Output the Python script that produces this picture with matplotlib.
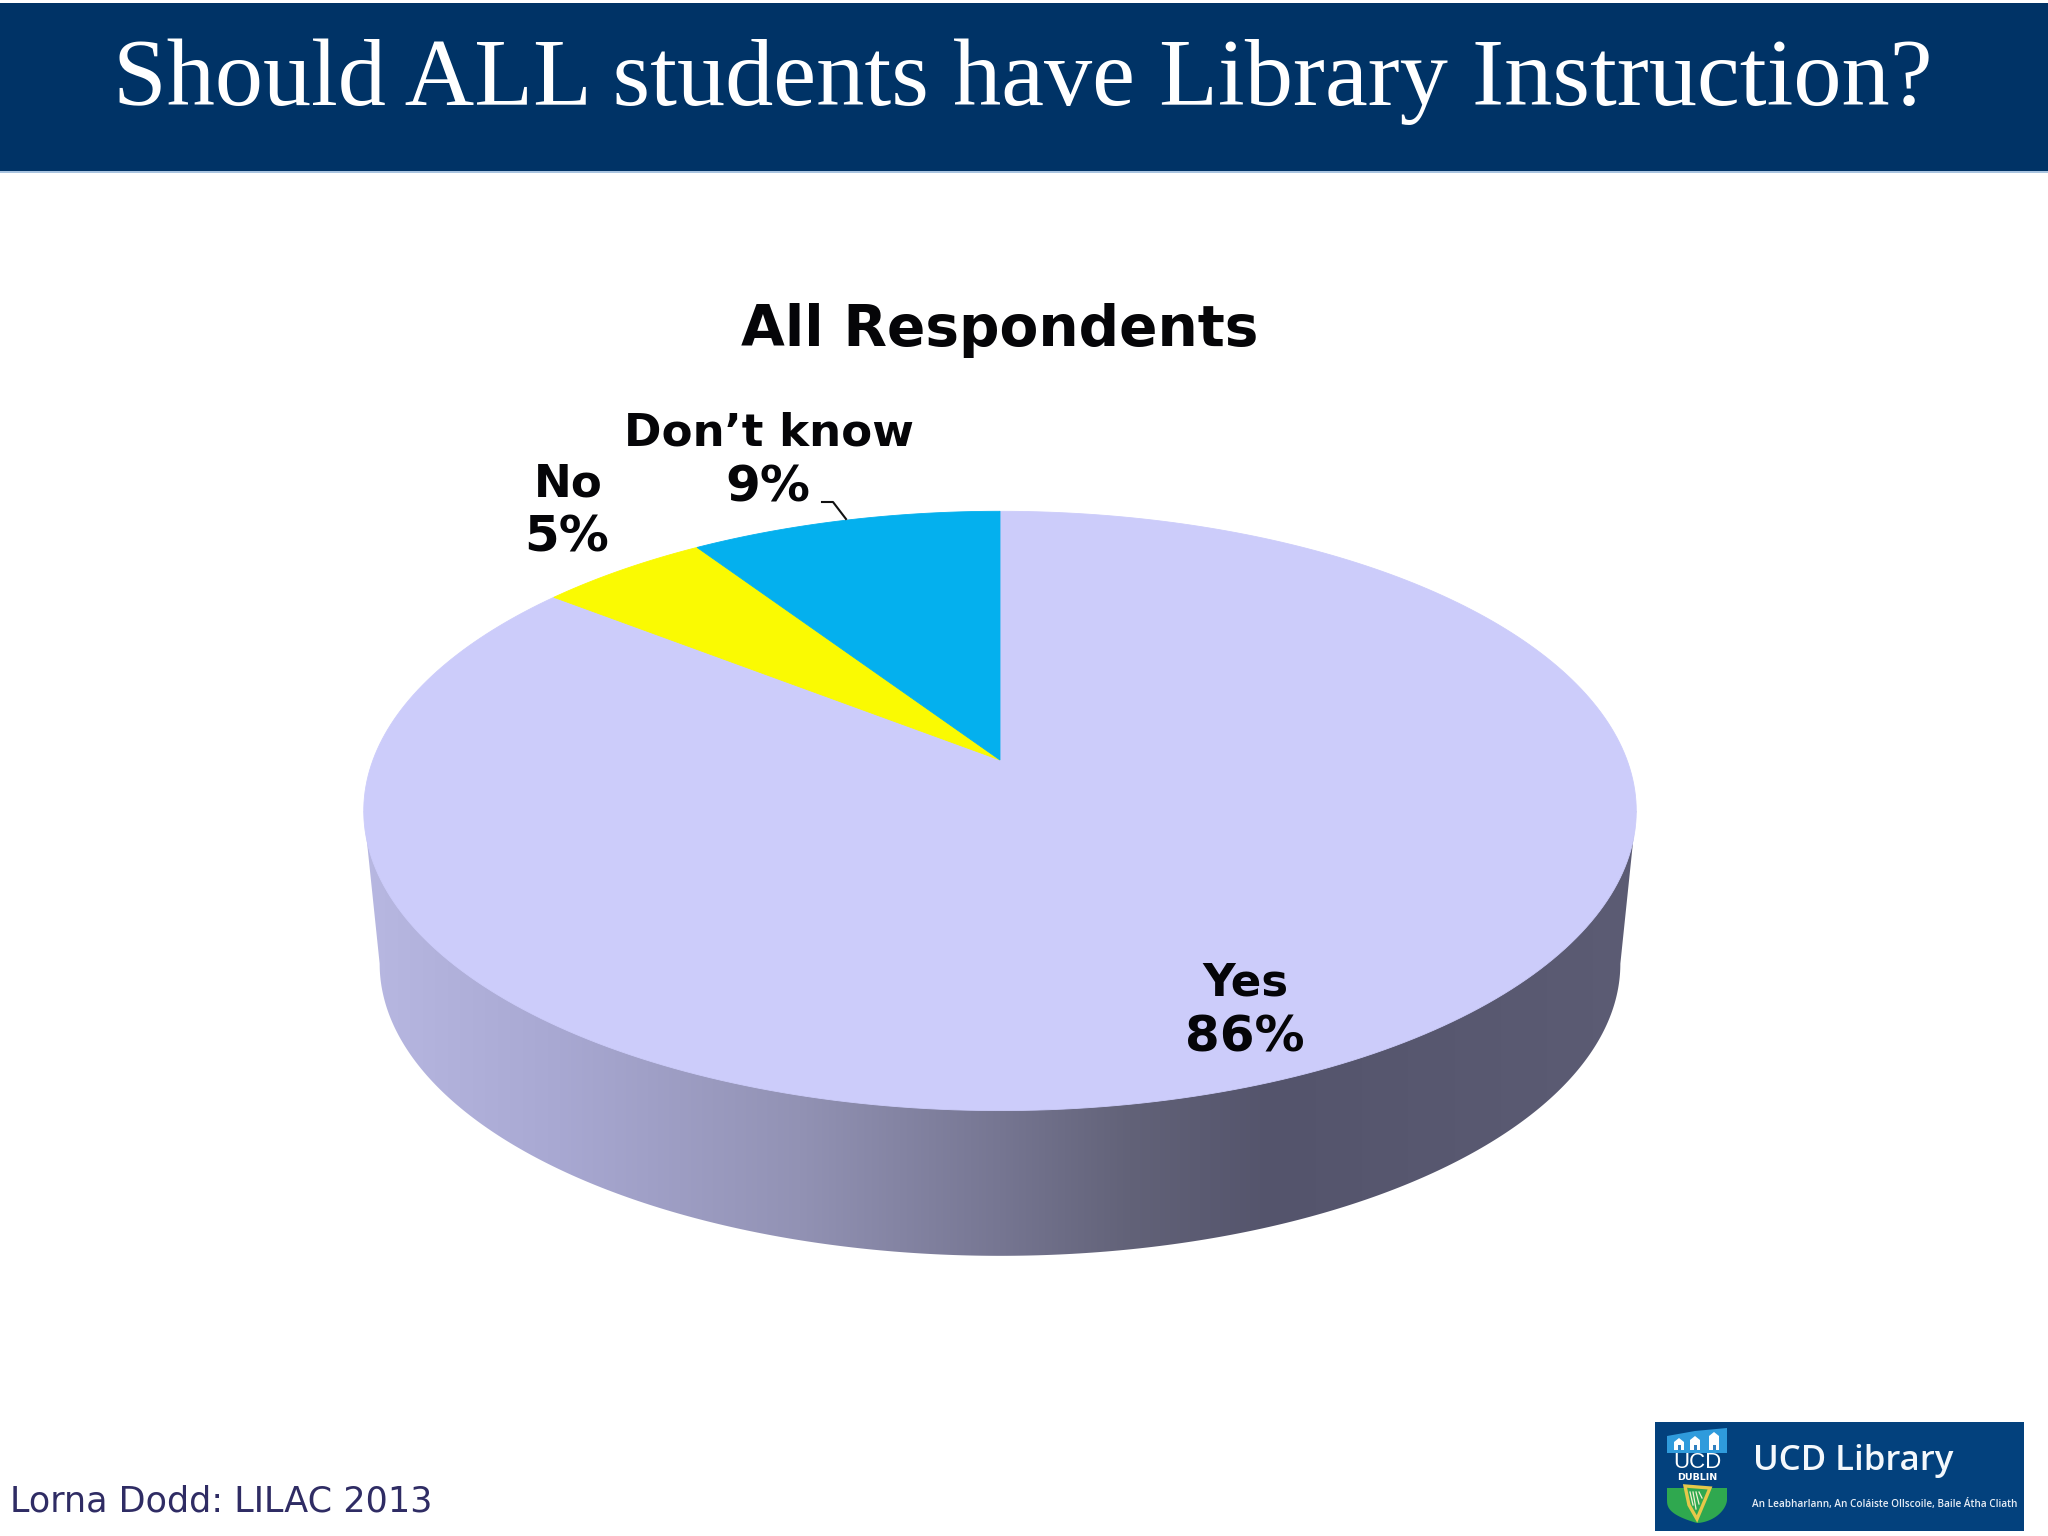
import numpy as np
import matplotlib
matplotlib.use("Agg")
import matplotlib.pyplot as plt
from matplotlib.patches import Polygon, Rectangle

# ===============================
# DATA
# ===============================
# slices from 12 o'clock going counterclockwise
categories = ["Don\u2019t know", "No", "Yes"]
shares = [9.3, 5.1, 85.6]
share_labels = ["9%", "5%", "86%"]
slice_colors = ["#04b0ee", "#fafa02", "#ccccfa"]

title = "Should ALL students have Library Instruction?"
chart_title = "All Respondents"
footer = "Lorna Dodd: LILAC 2013"

# ===============================
# PIE GEOMETRY (figure pixels)
# ===============================
CX, CY = 1000, 760
A, B, K = 627, 291, 0.17
RIM_SCALE, RIM_CY = 0.975, 914

# side shading, x position against colour
shade_x = [360, 560, 800, 1000, 1130, 1270, 1640]
shade_rgb = np.array([
    [184, 184, 226],
    [168, 168, 210],
    [146, 146, 180],
    [118, 118, 146],
    [98, 98, 120],
    [84, 84, 108],
    [92, 92, 116],
]) / 255


def project(t, scale=1.0, cy=CY):
    # circle seen in perspective, the far side is squeezed
    d = 1 + K * np.sin(t)
    return CX + A * scale * np.cos(t) / d, cy - B * scale * np.sin(t) / d


fig = plt.figure(figsize=(20.48, 15.36), dpi=100)
ax = fig.add_axes([0, 0, 1, 1])

# ===============================
# SIDE OF THE PIE
# ===============================
tw = np.arcsin(K)
t_rim = np.linspace(np.pi + tw, 2 * np.pi - tw, 300)
rx, ry = project(t_rim, RIM_SCALE, RIM_CY)
lx, ly = project(np.pi + tw)
hx, hy = project(2 * np.pi - tw)
side_pts = np.column_stack([np.r_[lx, rx, hx], np.r_[ly, ry, hy]])
side = Polygon(side_pts, closed=True, facecolor="none", edgecolor="none")
ax.add_patch(side)

xs = np.arange(360, 1641)
grad = np.column_stack([np.interp(xs, shade_x, shade_rgb[:, i]) for i in range(3)])
im = ax.imshow(grad[np.newaxis, :, :], extent=[360, 1640, 1300, 780],
               aspect="auto", interpolation="bilinear")
im.set_clip_path(side)

# ===============================
# TOP OF THE PIE
# ===============================
edges = np.r_[0, np.cumsum(shares)] / np.sum(shares) * 2 * np.pi + np.pi / 2
for i in range(len(shares) - 1, -1, -1):
    t = np.linspace(edges[i], edges[i + 1], 300)
    x, y = project(t)
    ax.fill(np.r_[CX, x], np.r_[CY, y], color=slice_colors[i], lw=0.6, zorder=3)

# ===============================
# LABELS
# ===============================
label_font = dict(family="DejaVu Sans", fontweight="bold", ha="center", va="center",
                  color="#050508", zorder=5)
name_pos = [(769, 433), (568, 484), (1245, 983)]
pct_pos = [(768, 487), (567, 538), (1245, 1037)]
for name, pct, np_, pp_ in zip(categories, share_labels, name_pos, pct_pos):
    ax.text(np_[0], np_[1], name, fontsize=32.5, **label_font)
    ax.text(pp_[0], pp_[1], pct, fontsize=36, **label_font)
ax.plot([822, 833, 846], [502, 502, 519], color="#111111", lw=1.5, zorder=5)

ax.text(1000, 330, chart_title, family="DejaVu Sans", fontweight="bold", fontsize=40.8,
        ha="center", va="center", color="#050508")

# ===============================
# HEADER AND FOOTER
# ===============================
ax.add_patch(Rectangle((0, 3), 2048, 168, facecolor="#003366", edgecolor="none"))
ax.add_patch(Rectangle((0, 171), 2048, 1.5, facecolor="#a9c4e0", edgecolor="none"))
ax.text(1023, 105, title, family="Liberation Serif", fontsize=69.4, color="white",
        ha="center", va="baseline")
ax.text(10, 1511, footer, family="DejaVu Sans", fontsize=25.2, color="#2f2c64",
        ha="left", va="baseline")

# ===============================
# LOGO
# ===============================
ax.add_patch(Rectangle((1655, 1422), 369, 109, facecolor="#03417d", edgecolor="none"))
ax.add_patch(Polygon([(1667, 1436), (1695, 1431), (1727, 1428), (1727, 1453), (1667, 1453)],
                     facecolor="#2f9bdc", edgecolor="none"))
for tx, ty in [(1679, 1438), (1695, 1436), (1714, 1432)]:
    ax.add_patch(Polygon([(tx - 5, 1450), (tx - 5, ty + 4), (tx, ty), (tx + 5, ty + 4), (tx + 5, 1450)],
                         facecolor="white", edgecolor="none"))
    ax.add_patch(Rectangle((tx - 1.5, 1445), 3, 5, facecolor="#2f7fbf", edgecolor="none"))
ax.text(1697, 1463, "UCD", family="Liberation Sans", fontsize=16, color="white",
        ha="center", va="center")
ax.text(1697, 1477, "DUBLIN", family="DejaVu Sans", fontweight="bold", fontsize=6.8, color="white",
        ha="center", va="center")
st = np.linspace(0, 1, 40)
shield_x = np.r_[1667, 1667 + 30 * st ** 1.6, 1697 + 30 * (1 - (1 - st) ** 1.6), 1727]
shield_y = np.r_[1488, 1500 + 23 * st ** 0.6, 1523 - 23 * st ** 1.67, 1488]
ax.add_patch(Polygon(np.column_stack([shield_x, shield_y]), facecolor="#2fa84f", edgecolor="none"))
ax.add_patch(Polygon([(1685, 1486), (1710, 1488), (1705, 1500), (1697, 1519), (1689, 1505)],
                     facecolor="none", edgecolor="#e6c84a", lw=2.4))
for sx, sy in [(1693, 1505), (1696, 1509), (1699, 1504), (1702, 1498)]:
    ax.plot([sx, sx - 3], [sy, 1492], color="#f2f2d0", lw=0.9)
ax.text(1753, 1470, "UCD Library", family="Open Sans", fontweight="semibold", fontsize=25,
        color="#f4f8fc", ha="left", va="baseline")
ax.text(1752, 1504, "An Leabharlann, An Col\u00e1iste Ollscoile, Baile \u00c1tha Cliath",
        family="Open Sans", fontweight="semibold", fontsize=7.2, color="#e8eef6",
        ha="left", va="center")

ax.set_xlim(0, 2048)
ax.set_ylim(1536, 0)
ax.axis("off")

fig.savefig("out.png", dpi=100, facecolor="white")
